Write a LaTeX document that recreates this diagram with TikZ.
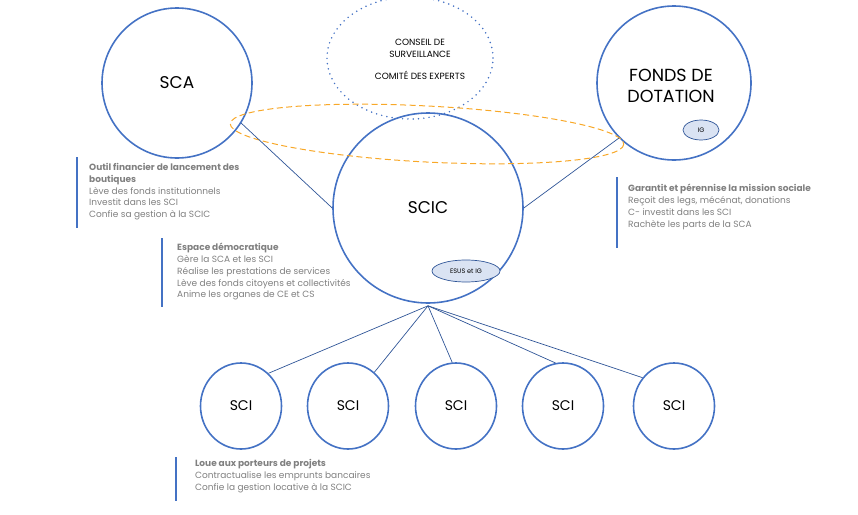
\documentclass[tikz,border=0pt]{standalone}
\usepackage{fontspec}
\setmainfont{Poppins}
\usetikzlibrary{shapes.geometric}
\definecolor{cblue}{HTML}{4472C4}
\definecolor{dblue}{HTML}{2F5597}
\definecolor{lblue}{HTML}{DAE3F3}
\definecolor{ctext}{HTML}{808080}
\definecolor{corange}{RGB}{248,168,40}
\tikzset{
  bigcirc/.style={circle, draw=cblue, line width=1.6pt, inner sep=0pt},
  scicirc/.style={ellipse, draw=cblue, line width=1.6pt, minimum width=81pt, minimum height=86pt, inner sep=0pt, font=\fontsize{14}{16}\selectfont},
  conn/.style={draw=dblue, line width=0.7pt},
  tag/.style={ellipse, draw=dblue, fill=lblue, line width=0.7pt, inner sep=0pt, font=\fontsize{6.5}{8}\selectfont},
  descr/.style={anchor=north west, align=left, inner sep=0pt, text=ctext, font=\fontsize{9}{11.8}\selectfont},
  bar/.style={draw=cblue, line width=1.8pt},
}
\begin{document}
\begin{tikzpicture}[x=1pt,y=-1pt]
\useasboundingbox (0,0) rectangle (858,514);
% big circles
\node[bigcirc, minimum size=150pt, font=\fontsize{17}{20}\selectfont] (sca) at (177,83) {SCA};
\node[bigcirc, minimum size=154pt] (fonds) at (674,83) {};
\node[align=center, inner sep=0pt, font=\fontsize{17.5}{21}\selectfont] (fondstxt) at (671,86) {FONDS DE\\DOTATION};
\node[bigcirc, minimum size=190pt, font=\fontsize{17}{20}\selectfont] (scic) at (428,208) {SCIC};
% conseil
\node[ellipse, draw=cblue, line width=1.7pt, dash pattern=on 0pt off 5.3pt, line cap=round, minimum width=166pt, minimum height=122pt] (conseil) at (410,58) {};
\node[align=center, font=\fontsize{9}{12}\selectfont, inner sep=0pt] (conseiltxt) at (420,59) {CONSEIL DE\\SURVEILLANCE\\[10pt]COMITÉ DES EXPERTS};
% orange dashed ellipse
\draw[corange, line width=1pt, dash pattern=on 6pt off 3.5pt, rotate around={-3:(427,134)}] (427,134) ellipse [x radius=197, y radius=28];
% tags
\node[tag, minimum width=36pt, minimum height=20pt] (ig) at (701,130) {IG};
\node[tag, minimum width=68pt, minimum height=22pt] (esus) at (466,271) {ESUS et IG};
% connectors to SCIC
\draw[conn] (sca.-32) -- (scic.west);
\draw[conn] (fonds.-135) -- (scic.east);
% SCI
\node[scicirc] (sci1) at (241,406) {SCI};
\node[scicirc] (sci2) at (348,406) {SCI};
\node[scicirc] (sci3) at (456,406) {SCI};
\node[scicirc] (sci4) at (563,406) {SCI};
\node[scicirc] (sci5) at (674,406) {SCI};
\coordinate (hub) at ([yshift=-2pt]scic.south);
\draw[conn] (hub) -- (sci1.50);
\draw[conn] (hub) -- (sci2.52);
\draw[conn] (hub) -- (sci3.95);
\draw[conn] (hub) -- (sci4.100);
\draw[conn] (hub) -- (sci5.138);
% text blocks
\draw[bar] (77,157) -- (77,228);
\node[descr] (d1) at (89,163) {\textbf{Outil financier de lancement des}\\\textbf{boutiques}\\Lève des fonds institutionnels\\Investit dans les SCI\\Confie sa gestion à la SCIC};
\draw[bar] (162,238) -- (162,307);
\node[descr] (d2) at (177,243) {\textbf{Espace démocratique}\\Gère la SCA et les SCI\\Réalise les prestations de services\\Lève des fonds citoyens et collectivités\\Anime les organes de CE et CS};
\draw[bar] (617,177) -- (617,248);
\node[descr] (d3) at (628,184) {\textbf{Garantit et pérennise la mission sociale}\\Reçoit des legs, mécénat, donations\\C- investit dans les SCI\\Rachète les parts de la SCA};
\draw[bar] (176,457) -- (176,501);
\node[descr] (d4) at (195,459) {\textbf{Loue aux porteurs de projets}\\Contractualise les emprunts bancaires\\Confie la gestion locative à la SCIC};
\end{tikzpicture}
\end{document}
